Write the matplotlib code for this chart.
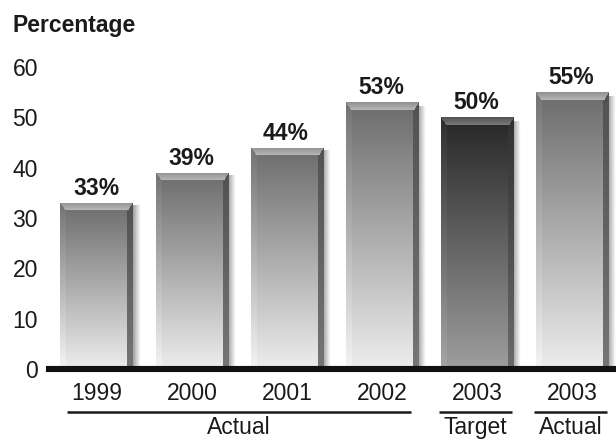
import numpy as np
import matplotlib
matplotlib.use("Agg")
import matplotlib.pyplot as plt

plt.rcParams['font.family'] = ['Liberation Sans', 'DejaVu Sans']

# ---- data ----
years = ['1999', '2000', '2001', '2002', '2003', '2003']
values = [33, 39, 44, 53, 50, 55]
groups = ['Actual', 'Actual', 'Actual', 'Actual', 'Target', 'Actual']
highlight = [False, False, False, False, True, False]
yticks = [0, 10, 20, 30, 40, 50, 60]
ylabel = 'Percentage'

W, H, DPI = 616, 440, 100
fig = plt.figure(figsize=(W / DPI, H / DPI), dpi=DPI)
ax = fig.add_axes([49 / W, 71 / H, 567 / W, 302 / H])
ax.set_xlim(-0.505, 5.463)
ax.set_ylim(0, 60)
ax.set_facecolor('white')

FS = 16.5
x = np.arange(len(values))
bw = 0.768
bars = ax.bar(x, values, width=bw, color='none', linewidth=0, zorder=2)


def shade(t, top, bottom):
    return bottom + (top - bottom) * t


for xi, v, hl, rect in zip(x, values, highlight, bars):
    rows = max(int(v * 5.04), 10)
    cols = 73
    t = (np.arange(rows) + 0.5) / rows  # bottom -> top
    u = (np.arange(cols) + 0.5) / cols
    if hl:
        face = shade(t, 0.15, 0.62)
        strip = shade(t, 0.19, 0.42)
        bevel = 0.33
        left = face + 0.03
    else:
        face = shade(t, 0.42, 0.93)
        strip = shade(t, 0.32, 0.46)
        bevel = 0.57
        left = face + 0.03
    img = np.repeat(face[:, None], cols, axis=1)
    lmask = u < 0.08
    rmask = u >= 0.92
    img[:, lmask] = left[:, None]
    img[:, rmask] = strip[:, None]
    nb = 8
    for r in range(nb):
        row = rows - 1 - r
        inset = r / nb
        m = (u > 0.08 * inset) & (u < 1 - 0.07 * inset)
        img[row, m] = bevel + 0.02 * r
    img = np.clip(img, 0, 1)
    rgb = np.dstack([img, img, img])
    x0 = xi - bw / 2
    im = ax.imshow(rgb, extent=(x0, x0 + bw, 0, v), origin='lower',
                   aspect='auto', interpolation='bilinear', zorder=2)
    im.set_clip_path(rect)
    # soft shadow to the right
    sw = 0.075
    a = np.linspace(0.55, 0.0, 12)
    sh = np.zeros((1, 12, 4))
    sh[..., :3] = 0.35
    sh[0, :, 3] = a
    ax.imshow(sh, extent=(x0 + bw, x0 + bw + sw, 0, v * 0.985), origin='lower',
              aspect='auto', interpolation='bilinear', zorder=1.5)
    ax.annotate(f'{v}%', xy=(xi - 0.01, v), xytext=(0, 8), textcoords='offset pixels',
                ha='center', va='baseline', fontsize=FS, fontweight='bold',
                color='#1a1a1a', zorder=3)

ax.set_xlim(-0.505, 5.463)
ax.set_ylim(0, 60)

for s in ['top', 'right', 'left']:
    ax.spines[s].set_visible(False)
ax.spines['bottom'].set_linewidth(4.4)
ax.spines['bottom'].set_color('#111111')
ax.spines['bottom'].set_zorder(4)
ax.set_yticks(yticks)
ax.set_yticklabels([str(t) for t in yticks])
ax.tick_params(axis='y', length=0, pad=8, labelsize=FS, labelcolor='#1a1a1a')
ax.set_xticks([])

for xi, yr in zip(x, years):
    ax.annotate(yr, xy=(xi, 0), xycoords=('data', 'axes fraction'),
                xytext=(0, -31), textcoords='offset pixels',
                ha='center', va='baseline', fontsize=FS, color='#1a1a1a',
                annotation_clip=False)

spans = []
start = 0
for i in range(1, len(groups) + 1):
    if i == len(groups) or groups[i] != groups[start] or highlight[i] != highlight[start]:
        spans.append((groups[start], start, i - 1))
        start = i
ytr = ax.get_xaxis_transform()
yline = -43 / 302
for name, a0, a1 in spans:
    if a1 > a0:
        l, r = a0 - 0.316, a1 + 0.305
    else:
        l, r = a0 - 0.40, a1 + 0.37
    ax.plot([l, r], [yline, yline], transform=ytr, color='#1a1a1a', lw=1.8,
            clip_on=False, solid_capstyle='butt')
    ax.annotate(name, xy=((l + r) / 2, 0), xycoords=('data', 'axes fraction'),
                xytext=(0, -65), textcoords='offset pixels',
                ha='center', va='baseline', fontsize=FS, color='#1a1a1a',
                annotation_clip=False)

fig.text(12 / W, 1 - 32 / H, ylabel, ha='left', va='baseline', fontsize=FS,
         fontweight='bold', color='#1a1a1a')

fig.savefig('out.png', dpi=DPI, facecolor='white')
